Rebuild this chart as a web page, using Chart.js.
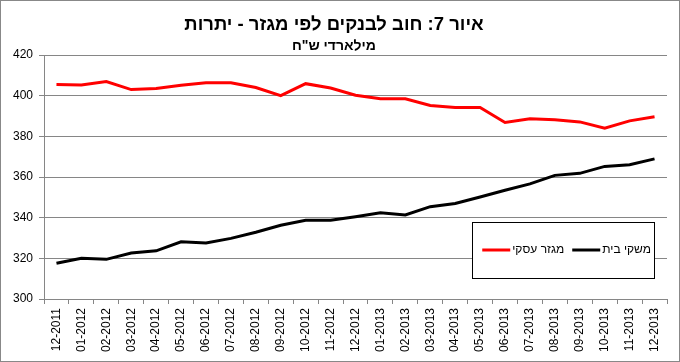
<!DOCTYPE html>
<html>
<head>
<meta charset="utf-8">
<script src="https://cdn.jsdelivr.net/npm/chart.js@4/dist/chart.umd.min.js"></script>
<style>
  body { margin: 0; background: #fff; }
  #wrap { width: 680px; height: 362px; border: 1px solid #888; box-sizing: border-box; }
</style>
</head>
<body>
<div id="wrap"><canvas id="chart" width="678" height="360"></canvas></div>
<script>
// months, end of period
const months = [
  "12-2011", "01-2012", "02-2012", "03-2012", "04-2012", "05-2012", "06-2012",
  "07-2012", "08-2012", "09-2012", "10-2012", "11-2012", "12-2012", "01-2013",
  "02-2013", "03-2013", "04-2013", "05-2013", "06-2013", "07-2013", "08-2013",
  "09-2013", "10-2013", "11-2013", "12-2013"
];

// business sector, NIS billion
const business = [
  405.5, 405.3, 406.9, 403.0, 403.5, 405.1, 406.4, 406.4, 404.0, 400.0, 405.9, 403.8,
  400.2, 398.5, 398.5, 395.2, 394.2, 394.2, 386.8, 388.6, 388.1, 387.1, 384.0, 387.6, 389.6
];

// households, NIS billion
const households = [
  317.6, 320.0, 319.5, 322.6, 323.7, 328.1, 327.5, 329.8, 332.8, 336.3, 338.7, 338.7,
  340.5, 342.4, 341.3, 345.4, 347.0, 350.2, 353.5, 356.6, 360.8, 361.8, 365.2, 366.0, 368.9
];

const yTicks = [300, 320, 340, 360, 380, 400, 420];

const font = "'Liberation Sans', Arial, sans-serif";
const gridGray = "#868686";

// legend drawn inside the plot, right to left like the original
const boxLegend = {
  id: "boxLegend",
  afterDraw(chart) {
    const ctx = chart.ctx;
    const x0 = 471, y0 = 221, w = 182, h = 56;
    ctx.save();
    ctx.fillStyle = "#fff";
    ctx.fillRect(x0, y0, w, h);
    ctx.strokeStyle = "#000";
    ctx.lineWidth = 1;
    ctx.strokeRect(x0 + 0.5, y0 + 0.5, w, h);
    ctx.font = "12px " + font;
    ctx.textBaseline = "middle";
    ctx.textAlign = "right";
    const cy = y0 + h / 2;
    let right = x0 + w - 3;
    // households first (rightmost), then business
    [1, 0].forEach(i => {
      const ds = chart.data.datasets[i];
      ctx.fillStyle = "#000";
      ctx.fillText(ds.label, right, cy);
      const tw = ctx.measureText(ds.label).width;
      const lineEnd = right - tw - 2;
      ctx.strokeStyle = ds.borderColor;
      ctx.lineWidth = 3;
      ctx.beginPath();
      ctx.moveTo(lineEnd - 28, cy);
      ctx.lineTo(lineEnd, cy);
      ctx.stroke();
      right = lineEnd - 36;
    });
    ctx.restore();
  }
};

new Chart(document.getElementById("chart"), {
  type: "line",
  data: {
    labels: months,
    datasets: [
      {
        label: "מגזר עסקי",
        data: business,
        borderColor: "#ff0000",
        borderWidth: 3,
        pointRadius: 0,
        tension: 0
      },
      {
        label: "משקי בית",
        data: households,
        borderColor: "#000000",
        borderWidth: 3,
        pointRadius: 0,
        tension: 0
      }
    ]
  },
  options: {
    responsive: false,
    animation: false,
    layout: { padding: { left: 0, right: 12, top: 0, bottom: 0 } },
    plugins: {
      legend: { display: false },
      tooltip: { enabled: false },
      title: {
        display: true,
        text: "איור 7: חוב לבנקים לפי מגזר - יתרות",
        color: "#000",
        font: { family: font, size: 18.5, weight: "bold" },
        padding: { top: 13, bottom: 0 }
      },
      subtitle: {
        display: true,
        text: "מילארדי ש\"ח",
        color: "#000",
        font: { family: font, size: 14, weight: "bold" },
        padding: { top: 2, bottom: 0 }
      }
    },
    scales: {
      x: {
        offset: true,
        grid: {
          offset: true,
          drawOnChartArea: false,
          color: gridGray,
          tickLength: 5
        },
        border: { color: gridGray },
        ticks: {
          autoSkip: false,
          minRotation: 90,
          maxRotation: 90,
          padding: 4,
          color: "#000",
          font: { family: font, size: 12 }
        },
        afterFit(scale) { scale.height = 62; }
      },
      y: {
        min: 300,
        max: 420,
        afterBuildTicks(scale) { scale.ticks = yTicks.map(v => ({ value: v })); },
        grid: { color: gridGray, tickLength: 5 },
        border: { color: gridGray },
        ticks: {
          padding: 6,
          color: "#000",
          font: { family: font, size: 12 }
        },
        afterFit(scale) { scale.width = 43; }
      }
    }
  },
  plugins: [boxLegend]
});
</script>
</body>
</html>
